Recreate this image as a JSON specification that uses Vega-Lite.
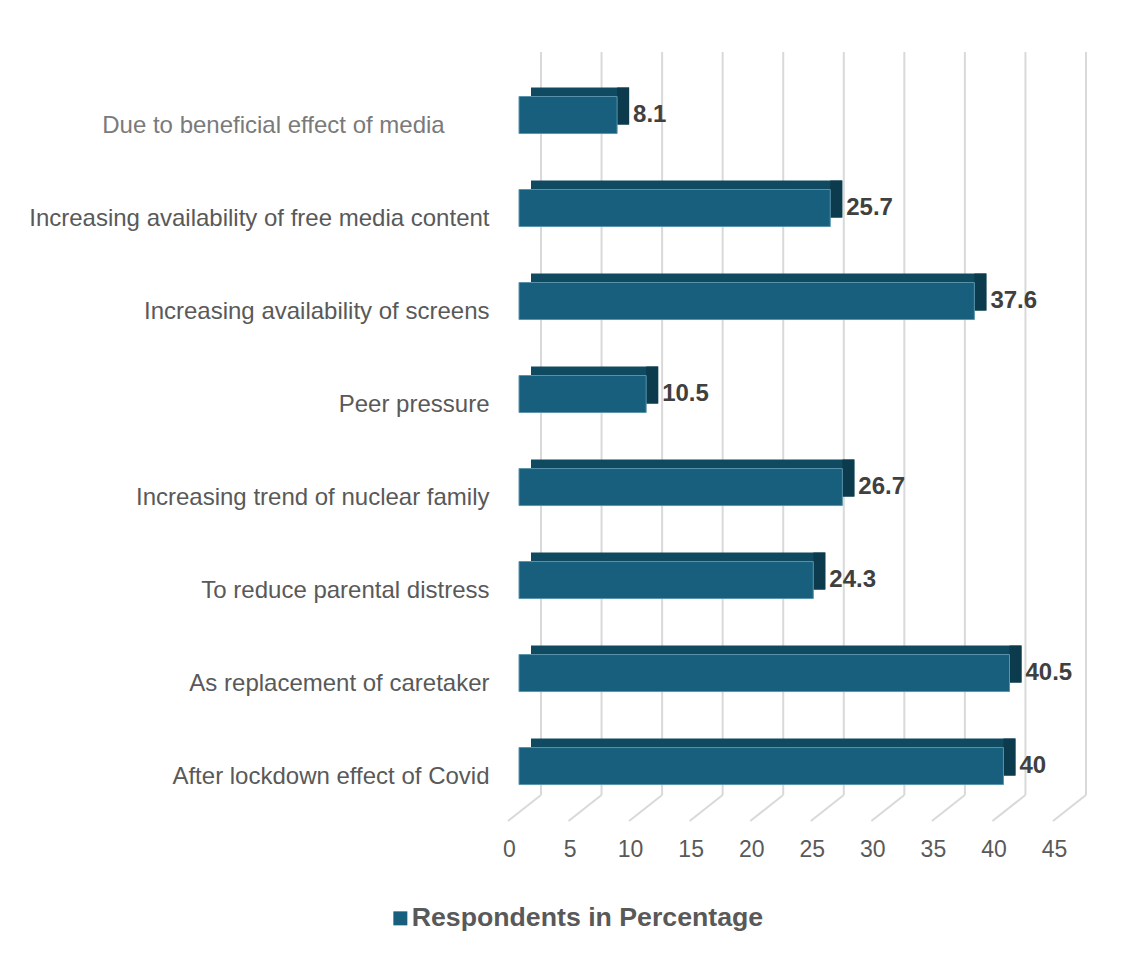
{
  "$schema": "https://vega.github.io/schema/vega-lite/v6.json",
  "autosize": "none",
  "width": 545,
  "height": 743,
  "padding": {"left": 519, "top": 52, "right": 65, "bottom": 159},
  "background": "white",
  "config": {
    "font": "Liberation Sans",
    "view": {"stroke": null}
  },
  "datasets": {
    "bars": [
      {"reason": "Due to beneficial effect of media", "pct": 8.1},
      {"reason": "Increasing availability of free media content", "pct": 25.7},
      {"reason": "Increasing availability of screens", "pct": 37.6},
      {"reason": "Peer pressure", "pct": 10.5},
      {"reason": "Increasing trend of nuclear family", "pct": 26.7},
      {"reason": "To reduce parental distress", "pct": 24.3},
      {"reason": "As replacement of caretaker", "pct": 40.5},
      {"reason": "After lockdown effect of Covid", "pct": 40}
    ],
    "ticks": [
      {"t": 0}, {"t": 5}, {"t": 10}, {"t": 15}, {"t": 20},
      {"t": 25}, {"t": 30}, {"t": 35}, {"t": 40}, {"t": 45}
    ]
  },
  "layer": [
    {
      "data": {"name": "ticks"},
      "mark": {"type": "rule", "color": "#d9d9d9", "strokeWidth": 2, "xOffset": 22},
      "encoding": {
        "x": {"field": "t", "type": "quantitative", "scale": {"domain": [0, 45], "nice": false, "zero": true},
          "axis": {"title": null, "values": [0, 5, 10, 15, 20, 25, 30, 35, 40, 45], "grid": false, "domain": false, "ticks": false,
            "labelOffset": -10, "labelPadding": 43, "labelFontSize": 23, "labelColor": "#595959", "labelFont": "Liberation Sans", "labelFlush": false}},
        "y": {"value": 0},
        "y2": {"value": "height"}
      }
    },
    {
      "data": {"name": "ticks"},
      "mark": {"type": "rule", "color": "#d9d9d9", "strokeWidth": 2, "xOffset": 22, "x2Offset": -11, "y2Offset": 26},
      "encoding": {
        "x": {"field": "t", "type": "quantitative"},
        "x2": {"field": "t"},
        "y": {"value": "height"},
        "y2": {"value": "height"}
      }
    },
    {
      "data": {"name": "bars"},
      "mark": {"type": "bar", "color": "#104a61", "xOffset": 12, "x2Offset": 12, "yOffset": -9, "y2Offset": -9},
      "encoding": {
        "y": {"field": "reason", "type": "nominal", "sort": null,
          "scale": {"paddingInner": 0.602, "paddingOuter": 0.2955, "align": 0.81},
          "axis": {"title": null, "domain": false, "ticks": false, "labelPadding": 30, "labelOffset": 11,
            "labelFontSize": 24, "labelLimit": 600, "labelFont": "Liberation Sans",
            "labelColor": {"condition": {"test": "datum.value == 'Due to beneficial effect of media'", "value": "#7a7a7a"}, "value": "#595959"},
            "labelExpr": "datum.value == 'Due to beneficial effect of media' ? datum.value + '\u00a0\u00a0\u00a0\u00a0\u00a0\u00a0\u2009\u200b' : datum.value"}},
        "x": {"field": "pct", "type": "quantitative"},
        "x2": {"datum": 0}
      }
    },
    {
      "data": {"name": "bars"},
      "mark": {"type": "bar", "color": "#0b3b4d", "xOffset": 0, "x2Offset": 12, "yOffset": -9, "y2Offset": -9},
      "encoding": {
        "y": {"field": "reason", "type": "nominal", "sort": null},
        "x": {"field": "pct", "type": "quantitative"},
        "x2": {"field": "pct"}
      }
    },
    {
      "data": {"name": "bars"},
      "mark": {"type": "bar", "stroke": "#5a93ab", "strokeWidth": 1},
      "encoding": {
        "y": {"field": "reason", "type": "nominal", "sort": null},
        "x": {"field": "pct", "type": "quantitative", "stack": null},
        "color": {"datum": "Respondents in Percentage", "type": "nominal",
          "scale": {"range": ["#175f7d"]},
          "legend": {"title": null, "orient": "none", "legendX": -132, "legendY": 853, "symbolType": "square", "symbolSize": 196,
            "symbolStrokeWidth": 0, "labelFontSize": 26.7, "labelFontWeight": "bold", "labelColor": "#595959", "labelFont": "Liberation Sans",
            "labelOffset": -2, "padding": 0, "labelLimit": 600}}
      }
    },
    {
      "data": {"name": "bars"},
      "mark": {"type": "text", "align": "left", "baseline": "middle", "xOffset": 16, "fontSize": 24, "fontWeight": "bold", "color": "#404040", "font": "Liberation Sans"},
      "encoding": {
        "y": {"field": "reason", "type": "nominal", "sort": null},
        "x": {"field": "pct", "type": "quantitative"},
        "text": {"field": "pct", "type": "quantitative"}
      }
    }
  ]
}
